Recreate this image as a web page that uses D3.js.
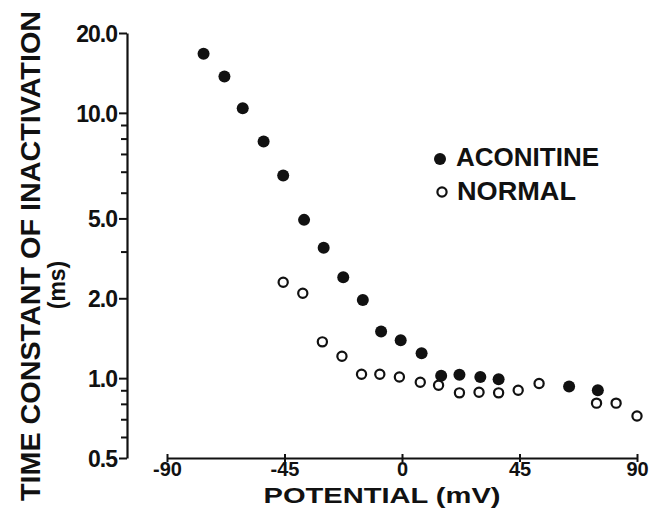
<!DOCTYPE html>
<html>
<head>
<meta charset="utf-8">
<script src="https://cdn.jsdelivr.net/npm/d3@7"></script>
<style>
  body { margin: 0; background: #fff; }
  svg { display: block; }
  text { font-family: "Liberation Sans", Arial, sans-serif; font-weight: bold; fill: #111; }
</style>
</head>
<body>
<svg id="chart" width="652" height="522"></svg>
<script>
// values
const aconitineV   = [-76, -68, -61, -53, -45.5, -37.5, -30, -22.5, -15, -8, -0.5, 7.5, 15, 22, 30, 37, 64, 75];
const aconitineTau = [16.7, 13.7, 10.4, 7.8, 5.8, 3.95, 3.1, 2.4, 1.97, 1.5, 1.39, 1.24, 1.02, 1.03, 1.01, 0.99, 0.93, 0.90];
const normalV   = [-45.5, -38, -30.5, -23, -15.5, -8.5, -1, 7, 14, 22, 29.5, 37, 44.5, 52.5, 74.5, 82, 90];
const normalTau = [2.3, 2.09, 1.37, 1.21, 1.035, 1.035, 1.01, 0.965, 0.94, 0.88, 0.885, 0.88, 0.90, 0.955, 0.805, 0.805, 0.72];

const xTicks = [-90, -45, 0, 45, 90];
// the printed axis labels its 4 ms tick as "5.0"
const yTickValues = [0.5, 1, 2, 4, 10, 20];
const yTickLabels = ["0.5", "1.0", "2.0", "5.0", "10.0", "20.0"];
const yMinorTicks = [0.6, 0.7, 0.8, 0.9, 3, 5, 6, 7, 8, 9];

const svg = d3.select('#chart');

const x = d3.scaleLinear().domain([-90, 90]).range([167, 637]);
const y = d3.scaleLog().domain([0.5, 20]).range([458, 33]);

// --- y axis ---
const yAxis = svg.append('g')
    .attr('transform', 'translate(127,0)')
    .call(d3.axisLeft(y)
        .tickValues(yTickValues)
        .tickFormat((d, i) => yTickLabels[i])
        .tickSize(8)
        .tickSizeOuter(0)
        .tickPadding(2));
yAxis.select('.domain').attr('stroke', '#111').attr('stroke-width', 2.2);
yAxis.selectAll('.tick line').attr('stroke', '#111').attr('stroke-width', 2);
yAxis.selectAll('.tick text')
    .attr('font-size', 23)
    .attr('dy', '0.36em')
    .attr('letter-spacing', -1);

svg.append('g')
    .attr('transform', 'translate(127,0)')
    .call(d3.axisLeft(y).tickValues(yMinorTicks).tickFormat('').tickSize(6).tickSizeOuter(0))
    .call(g => g.select('.domain').remove())
    .selectAll('.tick line').attr('stroke', '#111').attr('stroke-width', 2);

// --- x axis ---
const xAxis = svg.append('g')
    .attr('transform', 'translate(0,458)')
    .call(d3.axisBottom(x).tickValues(xTicks).tickFormat(d => String(d))
        .tickSize(4).tickSizeOuter(0).tickPadding(0));
xAxis.select('.domain').attr('stroke', '#111').attr('stroke-width', 2.2);
xAxis.selectAll('.tick line').attr('stroke', '#111').attr('stroke-width', 2).attr('y1', -4);
xAxis.selectAll('.tick text').attr('font-size', 20).attr('dy', '0.72em');

// --- axis titles ---
svg.append('text')
    .attr('x', 382).attr('y', 503)
    .attr('text-anchor', 'middle')
    .attr('font-size', 22)
    .attr('textLength', 237)
    .attr('lengthAdjust', 'spacingAndGlyphs')
    .text('POTENTIAL (mV)');

svg.append('text')
    .attr('transform', 'translate(40,256) rotate(-90)')
    .attr('text-anchor', 'middle')
    .attr('font-size', 27)
    .attr('textLength', 490)
    .attr('lengthAdjust', 'spacingAndGlyphs')
    .text('TIME CONSTANT OF INACTIVATION');

svg.append('text')
    .attr('transform', 'translate(65,285) rotate(-90)')
    .attr('text-anchor', 'middle')
    .attr('font-size', 23)
    .text('(ms)');

// --- points ---
svg.append('g').selectAll('circle')
    .data(aconitineV.map((v, i) => [v, aconitineTau[i]]))
    .join('circle')
    .attr('cx', d => x(d[0]))
    .attr('cy', d => y(d[1]))
    .attr('r', 6)
    .attr('fill', '#111');

svg.append('g').selectAll('circle')
    .data(normalV.map((v, i) => [v, normalTau[i]]))
    .join('circle')
    .attr('cx', d => x(d[0]))
    .attr('cy', d => y(d[1]))
    .attr('r', 4.6)
    .attr('fill', '#fff')
    .attr('stroke', '#111')
    .attr('stroke-width', 2.2);

// --- legend ---
const legend = svg.append('g');
legend.append('circle').attr('cx', 440).attr('cy', 159).attr('r', 6).attr('fill', '#111');
legend.append('text').attr('x', 456).attr('y', 166).attr('font-size', 25)
    .attr('textLength', 143).attr('lengthAdjust', 'spacingAndGlyphs').text('ACONITINE');
legend.append('circle').attr('cx', 442).attr('cy', 192).attr('r', 4.6)
    .attr('fill', '#fff').attr('stroke', '#111').attr('stroke-width', 2.2);
legend.append('text').attr('x', 457).attr('y', 200).attr('font-size', 25)
    .attr('textLength', 119).attr('lengthAdjust', 'spacingAndGlyphs').text('NORMAL');
</script>
</body>
</html>
